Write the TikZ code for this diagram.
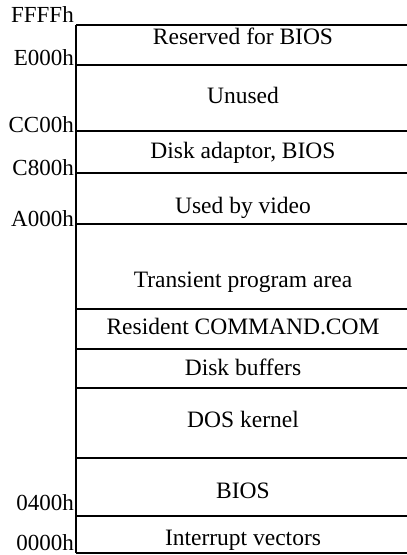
\documentclass[tikz,border=0pt]{standalone}
\usepackage{fontspec}
\setmainfont{Liberation Serif}
\begin{document}
\begin{tikzpicture}[x=1pt,y=-1pt,
  sep/.style={line width=1.7pt},
  addr/.style={anchor=base east,inner sep=0pt,font=\fontsize{23}{26}\selectfont},
  area/.style={anchor=base,inner sep=0pt,font=\fontsize{23.5}{27}\selectfont}]
\useasboundingbox (0,0) rectangle (407,555);
% boundaries
\coordinate (t) at (76,25);
\coordinate (b) at (76,553);
\draw[sep] (t) -- (b);
\foreach \y/\n in {25/l1,65/l2,131/l3,173/l4,224/l5,309/l6,349/l7,388/l8,458/l9,516/l10,553/l11}{
  \coordinate (\n) at (76,\y);
  \draw[sep] (\n) -- ++(331,0);
}
% addresses
\node[addr] (aFFFF) at (74,22) {FFFFh};
\node[addr] (aE000) at (74,65) {E000h};
\node[addr] (aCC00) at (74,132) {CC00h};
\node[addr] (aC800) at (74,175) {C800h};
\node[addr] (aA000) at (74,226) {A000h};
\node[addr] (a0400) at (74,510) {0400h};
\node[addr] (a0000) at (74,550) {0000h};
% areas
\node[area] (r1) at (243,44) {Reserved for BIOS};
\node[area] (r2) at (243,103) {Unused};
\node[area] (r3) at (243,158) {Disk adaptor, BIOS};
\node[area] (r4) at (243,213) {Used by video};
\node[area] (r5) at (243,287) {Transient program area};
\node[area] (r6) at (243,334) {Resident COMMAND.COM};
\node[area] (r7) at (243,375) {Disk buffers};
\node[area] (r8) at (243,427) {DOS kernel};
\node[area] (r9) at (243,498) {BIOS};
\node[area] (r10) at (243,545) {Interrupt vectors};
\end{tikzpicture}
\end{document}
